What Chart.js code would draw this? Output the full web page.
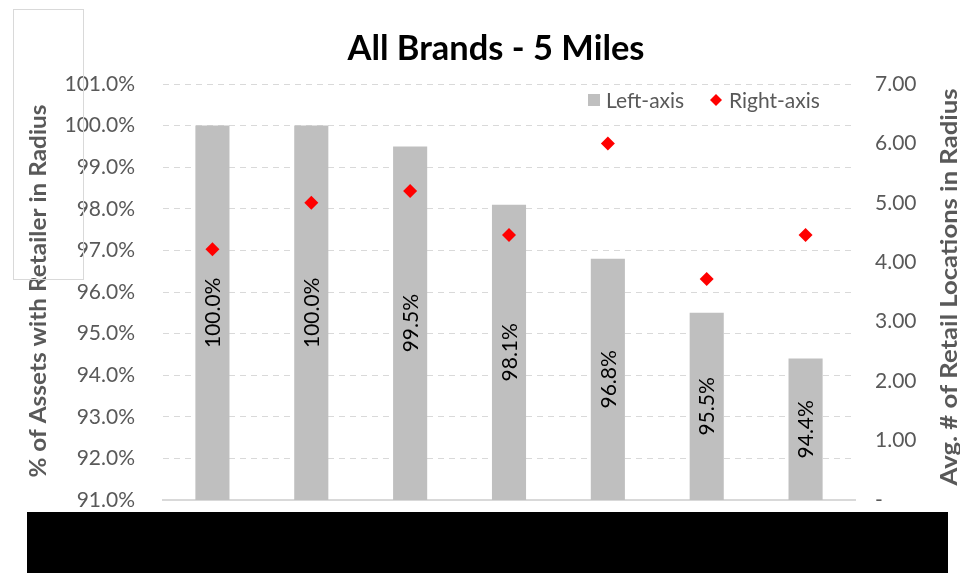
<!DOCTYPE html>
<html>
<head>
<meta charset="utf-8">
<script src="https://cdn.jsdelivr.net/npm/chart.js@4.4.0/dist/chart.umd.min.js"></script>
<style>
  html, body { margin: 0; padding: 0; background: #fff; }
  #wrap { width: 960px; height: 573px; }
</style>
</head>
<body>
<div id="wrap"><canvas id="chart" width="960" height="573"></canvas></div>
<script>
// --- dados ---
const categories = ['Brand 1', 'Brand 2', 'Brand 3', 'Brand 4', 'Brand 5', 'Brand 6', 'Brand 7'];
const pctAssets = [100.0, 100.0, 99.5, 98.1, 96.8, 95.5, 94.4];
const avgLocations = [4.22, 5.00, 5.20, 4.46, 6.00, 3.72, 4.46];
const leftTicks = [91, 92, 93, 94, 95, 96, 97, 98, 99, 100, 101];
const rightTicks = [0, 1, 2, 3, 4, 5, 6, 7];

const FONT = 'Lato, "Open Sans", sans-serif';
const GREY_TEXT = '#595959';
const BAR_COLOR = '#bfbfbf';
const POINT_COLOR = '#ff0000';

// escreve texto comprimido/esticado até uma largura alvo
function fitText(ctx, text, x, y, width) {
  const w = ctx.measureText(text).width;
  ctx.save();
  ctx.translate(x, y);
  ctx.scale(width / w, 1);
  ctx.fillText(text, 0, 0);
  ctx.restore();
}

// --- desenho extra: título, legenda, títulos dos eixos, rótulos ---
const decor = {
  id: 'decor',
  beforeDraw(chart) {
    const ctx = chart.ctx;
    ctx.save();
    ctx.fillStyle = '#fff';
    ctx.fillRect(0, 0, chart.width, chart.height);
    ctx.restore();
  },
  afterDraw(chart) {
    const ctx = chart.ctx;
    const area = chart.chartArea;
    ctx.save();

    // título
    ctx.fillStyle = '#000';
    ctx.font = 'bold 35px ' + FONT;
    ctx.textAlign = 'center';
    ctx.textBaseline = 'alphabetic';
    fitText(ctx, 'All Brands - 5 Miles', 496, 60, 297);

    // títulos dos eixos (ambos lidos de baixo para cima)
    ctx.fillStyle = GREY_TEXT;
    ctx.font = 'bold 23px ' + FONT;
    ctx.save();
    ctx.translate(46, 291);
    ctx.rotate(-Math.PI / 2);
    fitText(ctx, '% of Assets with Retailer in Radius', 0, 0, 373);
    ctx.restore();
    ctx.save();
    ctx.translate(957, 287);
    ctx.rotate(-Math.PI / 2);
    fitText(ctx, 'Avg. # of Retail Locations in Radius', 0, 0, 397);
    ctx.restore();

    // legenda
    const barSet = chart.data.datasets.find(d => d.type === 'bar');
    const pointSet = chart.data.datasets.find(d => d.type === 'line');
    ctx.font = '21px ' + FONT;
    ctx.textAlign = 'left';
    ctx.textBaseline = 'middle';
    ctx.fillStyle = BAR_COLOR;
    ctx.fillRect(588, 94, 12, 12);
    ctx.fillStyle = GREY_TEXT;
    ctx.fillText(barSet.label, 606, 101);
    ctx.fillStyle = POINT_COLOR;
    ctx.beginPath();
    ctx.moveTo(716, 94); ctx.lineTo(722, 100); ctx.lineTo(716, 106); ctx.lineTo(710, 100);
    ctx.closePath();
    ctx.fill();
    ctx.fillStyle = GREY_TEXT;
    ctx.fillText(pointSet.label, 729, 101);

    // rótulos das barras, girados (a base real fica abaixo do eixo, então corta no chartArea)
    const meta = chart.getDatasetMeta(chart.data.datasets.indexOf(barSet));
    ctx.fillStyle = '#000';
    ctx.font = '21px ' + FONT;
    ctx.textAlign = 'center';
    ctx.textBaseline = 'middle';
    meta.data.forEach((bar, i) => {
      const bottom = Math.min(bar.base, area.bottom);
      const cy = (bar.y + bottom) / 2;
      ctx.save();
      ctx.translate(bar.x + 1, cy);
      ctx.rotate(-Math.PI / 2);
      ctx.fillText(pctAssets[i].toFixed(1) + '%', 0, 0);
      ctx.restore();
    });

    // caixa cinza no canto
    ctx.strokeStyle = '#d9d9d9';
    ctx.lineWidth = 1;
    ctx.strokeRect(13.5, 9.5, 70, 270);

    // faixa preta sobre as categorias
    ctx.fillStyle = '#000';
    ctx.fillRect(27, 512, 921, 61);
    ctx.restore();
  }
};

new Chart(document.getElementById('chart'), {
  data: {
    labels: categories,
    datasets: [
      {
        type: 'line',
        label: 'Right-axis',
        data: avgLocations,
        yAxisID: 'y1',
        showLine: false,
        pointStyle: 'rectRot',
        pointRadius: 7,
        pointBackgroundColor: POINT_COLOR,
        pointBorderWidth: 0,
        order: 0
      },
      {
        type: 'bar',
        label: 'Left-axis',
        data: pctAssets,
        yAxisID: 'y',
        backgroundColor: BAR_COLOR,
        categoryPercentage: 1,
        barPercentage: 0.345,
        order: 1
      }
    ]
  },
  options: {
    responsive: false,
    animation: false,
    layout: { padding: { top: 84, bottom: 73, left: 0, right: 0 } },
    plugins: {
      legend: { display: false },
      tooltip: { enabled: false }
    },
    scales: {
      x: {
        grid: { display: false },
        ticks: { display: false },
        border: { display: true, color: '#d9d9d9', width: 2 },
        afterFit: s => { s.height = 0; }
      },
      y: {
        position: 'left',
        min: leftTicks[0],
        max: leftTicks[leftTicks.length - 1],
        afterBuildTicks: s => { s.ticks = leftTicks.map(v => ({ value: v })); },
        ticks: {
          color: GREY_TEXT,
          font: { family: FONT, size: 21 },
          padding: 28,
          callback: v => v.toFixed(1) + '%'
        },
        grid: { color: '#d9d9d9', drawTicks: false },
        border: { display: false, dash: [6, 5] },
        afterFit: s => { s.width = 163; }
      },
      y1: {
        position: 'right',
        min: rightTicks[0],
        max: rightTicks[rightTicks.length - 1],
        afterBuildTicks: s => { s.ticks = rightTicks.map(v => ({ value: v })); },
        ticks: {
          color: GREY_TEXT,
          font: { family: FONT, size: 21 },
          padding: 20,
          callback: v => v === 0 ? '-' : v.toFixed(2)
        },
        grid: { display: false, drawTicks: false },
        border: { display: false },
        afterFit: s => { s.width = 105; }
      }
    }
  },
  plugins: [decor]
});
</script>
</body>
</html>
